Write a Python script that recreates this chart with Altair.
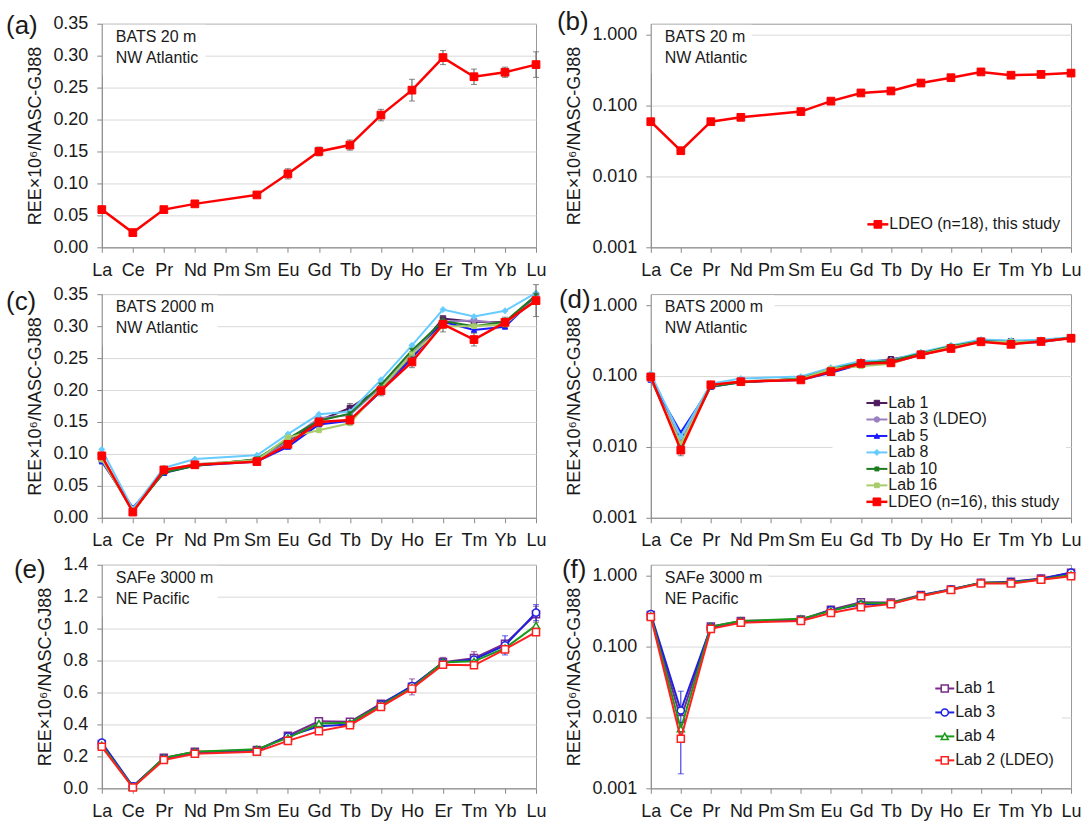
import altair as alt
import pandas as pd

FONT = "Liberation Sans"

elements = ["La", "Ce", "Pr", "Nd", "Pm", "Sm", "Eu", "Gd", "Tb", "Dy", "Ho", "Er", "Tm", "Yb", "Lu"]

# BATS 20 m, LDEO (n=18)
ldeo20 = [0.059, 0.023, 0.059, 0.068, None, 0.082, 0.115, 0.150, 0.160, 0.207, 0.246, 0.297, 0.267, 0.274, 0.286]
ldeo20_err = [0.003, 0.002, 0.003, 0.003, None, 0.004, 0.008, 0.007, 0.008, 0.009, 0.017, 0.011, 0.012, 0.008, 0.020]

# BATS 2000 m
b_lab1 = [0.091, 0.011, 0.072, 0.082, None, 0.091, 0.120, 0.152, 0.172, 0.203, 0.254, 0.312, 0.307, 0.306, 0.348]
b_lab1_err = [None, None, None, None, None, None, None, None, 0.007, None, None, None, None, None, None]
b_lab3 = [0.094, 0.012, 0.074, 0.084, None, 0.090, 0.121, 0.156, 0.161, 0.205, 0.257, 0.307, 0.309, 0.304, 0.349]
b_lab5 = [0.088, 0.016, 0.070, 0.082, None, 0.088, 0.111, 0.146, 0.152, 0.198, 0.250, 0.307, 0.294, 0.299, 0.346]
b_lab8 = [0.107, 0.014, 0.078, 0.092, None, 0.098, 0.131, 0.162, 0.166, 0.216, 0.270, 0.326, 0.315, 0.324, 0.352]
b_lab10 = [0.093, 0.010, 0.071, 0.081, None, 0.092, 0.124, 0.152, 0.163, 0.208, 0.262, 0.308, 0.300, 0.307, 0.348]
b_lab16 = [0.091, 0.011, 0.074, 0.084, None, 0.090, 0.126, 0.137, 0.148, 0.203, 0.256, 0.300, 0.300, 0.303, 0.343]
b_ldeo = [0.097, 0.009, 0.075, 0.083, None, 0.088, 0.115, 0.150, 0.153, 0.199, 0.244, 0.303, 0.279, 0.306, 0.340]
b_ldeo_err = [0.004, 0.0015, 0.003, 0.003, None, 0.003, 0.005, 0.006, 0.006, 0.008, 0.009, 0.012, 0.010, 0.008, 0.025]

# SAFe 3000 m
s_lab1 = [0.277, 0.0095, 0.191, 0.229, None, 0.239, 0.329, 0.420, 0.416, 0.530, 0.635, 0.790, 0.815, 0.905, 1.090]
s_lab1_err = [None, None, None, None, None, None, None, None, None, None, 0.05, 0.03, 0.04, None, 0.05]
s_lab3 = [0.287, 0.0125, 0.187, 0.222, None, 0.237, 0.325, 0.389, 0.400, 0.524, 0.641, 0.786, 0.807, 0.895, 1.100]
s_lab3_err = [None, 0.0109, None, None, None, None, None, None, None, None, None, None, None, 0.06, 0.05]
s_lab4 = [0.270, 0.0069, 0.191, 0.229, None, 0.245, 0.316, 0.406, 0.410, 0.520, 0.630, 0.790, 0.795, 0.878, 1.020]
s_lab2 = [0.260, 0.0050, 0.177, 0.216, None, 0.229, 0.297, 0.358, 0.395, 0.510, 0.624, 0.774, 0.770, 0.870, 0.978]

XSTAR = "M-1,-1L1,1M-1,1L1,-1M0,-1.2L0,1.2"

series_20 = [
    dict(label="LDEO (n=18), this study", v=ldeo20, err=ldeo20_err, col="#ff0000", fill="#ff0000",
         shape="square", size=60, sw=2.5, psw=1, ecol="#555555"),
]
series_2000 = [
    dict(label="Lab 1", v=b_lab1, err=b_lab1_err, col="#4e1a5e", fill="#4e1a5e", shape="square", size=30, sw=2, psw=1, ecol="#555555"),
    dict(label="Lab 3 (LDEO)", v=b_lab3, err=None, col="#9a80c0", fill="#9a80c0", shape="circle", size=30, sw=2, psw=1, ecol="#555555"),
    dict(label="Lab 5", v=b_lab5, err=None, col="#1a1aff", fill="#1a1aff", shape="triangle-up", size=30, sw=2, psw=1, ecol="#555555"),
    dict(label="Lab 8", v=b_lab8, err=None, col="#66ccff", fill="#66ccff", shape="diamond", size=36, sw=2, psw=1, ecol="#555555"),
    dict(label="Lab 10", v=b_lab10, err=None, col="#1e7a1e", fill="transparent", shape=XSTAR, size=20, sw=2, psw=1.5, ecol="#555555"),
    dict(label="Lab 16", v=b_lab16, err=None, col="#a8cc6a", fill="#a8cc6a", shape="square", size=22, sw=2, psw=1, ecol="#555555"),
    dict(label="LDEO (n=16), this study", v=b_ldeo, err=b_ldeo_err, col="#ff0000", fill="#ff0000", shape="square", size=60, sw=2.5, psw=1, ecol="#555555"),
]
series_3000 = [
    dict(label="Lab 1", v=s_lab1, err=s_lab1_err, col="#7a2a8a", fill="white", shape="square", size=50, sw=2, psw=1.5, ecol="#7a2a8a"),
    dict(label="Lab 3", v=s_lab3, err=s_lab3_err, col="#2020e0", fill="white", shape="circle", size=50, sw=2, psw=1.5, ecol="#2020e0"),
    dict(label="Lab 4", v=s_lab4, err=None, col="#1a9a1a", fill="white", shape="triangle-up", size=50, sw=2, psw=1.5, ecol="#1a9a1a"),
    dict(label="Lab 2 (LDEO)", v=s_lab2, err=None, col="#ff2020", fill="white", shape="square", size=50, sw=2, psw=1.5, ecol="#ff2020"),
]

YTITLE = "REE×10⁶/NASC-GJ88"
H = 224
WL = 435
WR = 421


def series_frame(s):
    rows = []
    for i, el in enumerate(elements):
        v = s["v"][i]
        if v is None:
            continue
        e = s["err"][i] if s["err"] is not None else None
        rows.append(dict(el=el, v=v,
                         lo=(v - e) if e is not None else None,
                         hi=(v + e) if e is not None else None))
    return pd.DataFrame(rows)


def make_panel(series, log, ydomain, yvalues, yfmt, width, tag, tag_xy, info, box, legend):
    xenc = alt.X("el:N", sort=elements,
                 scale=alt.Scale(type="point", domain=elements, padding=0),
                 axis=alt.Axis(title=None, labelAngle=0, labelOverlap=False, grid=False))
    if log:
        yscale = alt.Scale(type="log", domain=ydomain, nice=False)
    else:
        yscale = alt.Scale(type="linear", domain=ydomain, nice=False, zero=False)
    yaxis = alt.Axis(title=YTITLE, values=yvalues, format=yfmt, grid=True, labelOverlap=False)

    one = pd.DataFrame({"t": [0]})
    layers = []
    # white text box behind the site annotation (covers grid lines)
    layers.append(alt.Chart(one).mark_rect(color="white").encode(
        x=alt.value(1), x2=alt.value(box[0]), y=alt.value(1), y2=alt.value(box[1])))
    if legend is not None and legend.get("box") is not None:
        bx = legend["box"]
        layers.append(alt.Chart(one).mark_rect(color="white").encode(
            x=alt.value(bx[0]), x2=alt.value(bx[1]), y=alt.value(bx[2]), y2=alt.value(bx[3])))

    for s in series:
        df = series_frame(s)
        base = alt.Chart(df)
        layers.append(base.mark_line(strokeWidth=s["sw"], color=s["col"]).encode(
            x=xenc, y=alt.Y("v:Q", scale=yscale, axis=yaxis)))
        if s["err"] is not None:
            edf = base.transform_filter("isValid(datum.lo)")
            layers.append(edf.mark_rule(color=s["ecol"], strokeWidth=1).encode(
                x=xenc, y=alt.Y("lo:Q", scale=yscale, axis=yaxis), y2="hi:Q"))
            layers.append(edf.mark_tick(color=s["ecol"], size=6, thickness=1).encode(
                x=xenc, y=alt.Y("lo:Q", scale=yscale, axis=yaxis)))
            layers.append(edf.mark_tick(color=s["ecol"], size=6, thickness=1).encode(
                x=xenc, y=alt.Y("hi:Q", scale=yscale, axis=yaxis)))
        layers.append(base.mark_point(size=s["size"], opacity=1).encode(
            x=xenc, y=alt.Y("v:Q", scale=yscale, axis=yaxis),
            fill=alt.value(s["fill"]), stroke=alt.value(s["col"]),
            shape=alt.value(s["shape"]), strokeWidth=alt.value(s["psw"])))

    # site annotation
    layers.append(alt.Chart(pd.DataFrame({"t": [info]})).mark_text(
        align="left", baseline="top", fontSize=16, font=FONT, color="#1a1a1a",
        lineBreak="\n", lineHeight=21).encode(x=alt.value(14), y=alt.value(5), text="t:N"))

    # panel tag
    layers.append(alt.Chart(pd.DataFrame({"t": [tag]})).mark_text(
        align="left", baseline="top", fontSize=26, font=FONT, color="#1a1a1a").encode(
        x=alt.value(tag_xy[0]), y=alt.value(tag_xy[1]), text="t:N"))

    # legend
    if legend is not None:
        for i, s in enumerate(series):
            yy = legend["y0"] + i * legend["step"]
            d = pd.DataFrame({"t": [s["label"]]})
            b = alt.Chart(d)
            layers.append(b.mark_rule(color=s["col"], strokeWidth=s["sw"]).encode(
                x=alt.value(legend["x0"]), x2=alt.value(legend["x1"]), y=alt.value(yy)))
            layers.append(b.mark_point(size=s["size"], opacity=1).encode(
                x=alt.value((legend["x0"] + legend["x1"]) / 2), y=alt.value(yy),
                fill=alt.value(s["fill"]), stroke=alt.value(s["col"]),
                shape=alt.value(s["shape"]), strokeWidth=alt.value(s["psw"])))
            layers.append(b.mark_text(align="left", baseline="middle", fontSize=16, font=FONT,
                                      color="#1a1a1a").encode(
                x=alt.value(legend["x1"] + 1), y=alt.value(yy), text="t:N"))

    return alt.layer(*layers).properties(width=width, height=H)


lin35 = [0, 0.05, 0.10, 0.15, 0.20, 0.25, 0.30, 0.35]
lin14 = [0, 0.2, 0.4, 0.6, 0.8, 1.0, 1.2, 1.4]
logv = [0.001, 0.01, 0.1, 1]
logdom = [0.001, 1.42]

pa = make_panel(series_20, False, [0, 0.35], lin35, ".2f", WL, "(a)", (-96, -11),
                "BATS 20 m\nNW Atlantic", (104, 52), None)
pb = make_panel(series_20, True, logdom, logv, ".3f", WR, "(b)", (-94, -15),
                "BATS 20 m\nNW Atlantic", (101, 50),
                dict(x0=217, x1=238, y0=201, step=16, box=None))
pc = make_panel(series_2000, False, [0, 0.35], lin35, ".2f", WL, "(c)", (-96, -5),
                "BATS 2000 m\nNW Atlantic", (116, 52), None)
pd_ = make_panel(series_2000, True, logdom, logv, ".3f", WR, "(d)", (-92, -7),
                 "BATS 2000 m\nNW Atlantic", (124, 50),
                 dict(x0=216, x1=237, y0=109, step=16.5, box=(182, 416, 95, 222)))
pe = make_panel(series_3000, False, [0, 1.4], lin14, ".1f", WL, "(e)", (-88, -8),
                "SAFe 3000 m\nNE Pacific", (116, 52), None)
pf = make_panel(series_3000, True, logdom, logv, ".3f", WR, "(f)", (-89, -8),
                "SAFe 3000 m\nNE Pacific", (118, 50),
                dict(x0=285, x1=304, y0=124, step=24, box=(281, 412, 110, 210)))

chart = alt.concat(pa, pb, pc, pd_, pe, pf, columns=2,
                   spacing={"row": 47, "column": 115}, bounds="flush", align="each").properties(
    padding={"left": 5, "top": 7, "right": 5, "bottom": 5},
    background="white",
).configure_view(
    stroke="#9a9a9a", strokeWidth=1
).configure_axis(
    labelFont=FONT, labelFontSize=18, labelColor="#1a1a1a",
    titleFont=FONT, titleFontSize=18, titleFontWeight="normal", titleColor="#1a1a1a",
    domainColor="#8a8a8a", tickColor="#8a8a8a", gridColor="#d9d9d9",
    tickSize=5, labelPadding=9, titlePadding=8,
)

chart.save("out.html", embed_options={"renderer": "svg", "actions": False})
